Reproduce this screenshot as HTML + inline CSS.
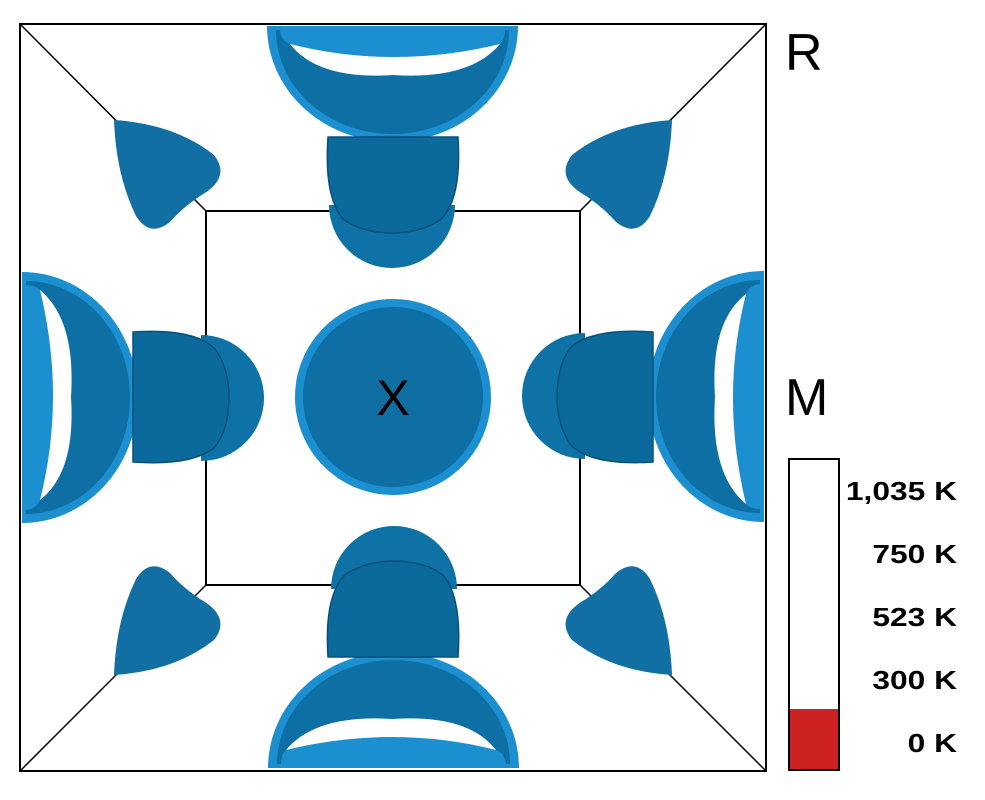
<!DOCTYPE html>
<html><head><style>body{margin:0;background:#fff}svg{display:block}</style></head><body>
<svg width="985" height="800" viewBox="0 0 985 800" xmlns="http://www.w3.org/2000/svg">
<defs>
<g id="arm">
  <path d="M267,26 L518,26 A125.5,116 0 0 1 267,26 Z" fill="#1b8fd0"/>
  <path d="M276,30 L509,30 A116.5,104 0 0 1 276,30 Z" fill="#0d6fa3"/>
  <path d="M280,28 L505,28 Q505,40 500,44 Q393,70 290,44 Q280,40 280,28 Z" fill="#1b8fd0"/>
  <path d="M290,44 Q393,70 500,44 Q470,80 393,75 Q318,80 290,44 Z" fill="#fff"/>
  <path d="M329,205 L455,205 A63,63 0 0 1 329,205 Z" fill="#0f72a6"/>
  <path d="M328,137 L458,137 Q462,200 440,220 Q420,233 393,233 Q360,233 342,218 Q324,195 328,137 Z" fill="#0b6a9b" stroke="#08507a" stroke-width="1.5"/>
</g>
<path id="drop" d="M114,120 Q175,124 214,155 Q232,178 200,196 Q182,208 170,222 Q150,238 136,216 Q116,175 114,120 Z" fill="#126fa3"/>
</defs>
<rect x="20" y="24" width="746" height="747" fill="none" stroke="#000" stroke-width="2"/>
<rect x="206" y="211" width="374" height="374" fill="none" stroke="#000" stroke-width="2"/>
<g stroke="#000" stroke-width="1.5">
<line x1="20" y1="24" x2="206" y2="211"/><line x1="766" y1="24" x2="580" y2="211"/>
<line x1="20" y1="771" x2="206" y2="585"/><line x1="766" y1="771" x2="580" y2="585"/>
</g>
<use href="#drop"/>
<use href="#drop" transform="translate(786,0) scale(-1,1)"/>
<use href="#drop" transform="translate(0,795) scale(1,-1)"/>
<use href="#drop" transform="translate(786,795) scale(-1,-1)"/>
<use href="#arm"/>
<use href="#arm" transform="rotate(-90 393 397)"/>
<use href="#arm" transform="rotate(90 393 397)"/>
<use href="#arm" transform="rotate(180 393 397)"/>
<circle cx="393" cy="397" r="98" fill="#1b8fd0"/>
<circle cx="393" cy="397" r="90" fill="#0d6fa3"/>
<circle cx="393" cy="400" r="80" fill="#106fa2"/>
<text x="393" y="415" font-family="Liberation Sans, sans-serif" font-size="50" text-anchor="middle">X</text>
<text x="785" y="70" font-family="Liberation Sans, sans-serif" font-size="52">R</text>
<text x="785" y="415" font-family="Liberation Sans, sans-serif" font-size="52">M</text>
<rect x="789" y="709" width="50" height="61" fill="#cc2222"/>
<rect x="789" y="459" width="50" height="311" fill="none" stroke="#000" stroke-width="2"/>
<g font-family="Liberation Sans, sans-serif" font-size="26" font-weight="bold" text-anchor="end" transform="translate(957,0) scale(1.22,1) translate(-957,0)">
<text x="957" y="500">1,035 K</text>
<text x="957" y="563">750 K</text>
<text x="957" y="626">523 K</text>
<text x="957" y="689">300 K</text>
<text x="957" y="752">0 K</text>
</g>
</svg>
</body></html>
